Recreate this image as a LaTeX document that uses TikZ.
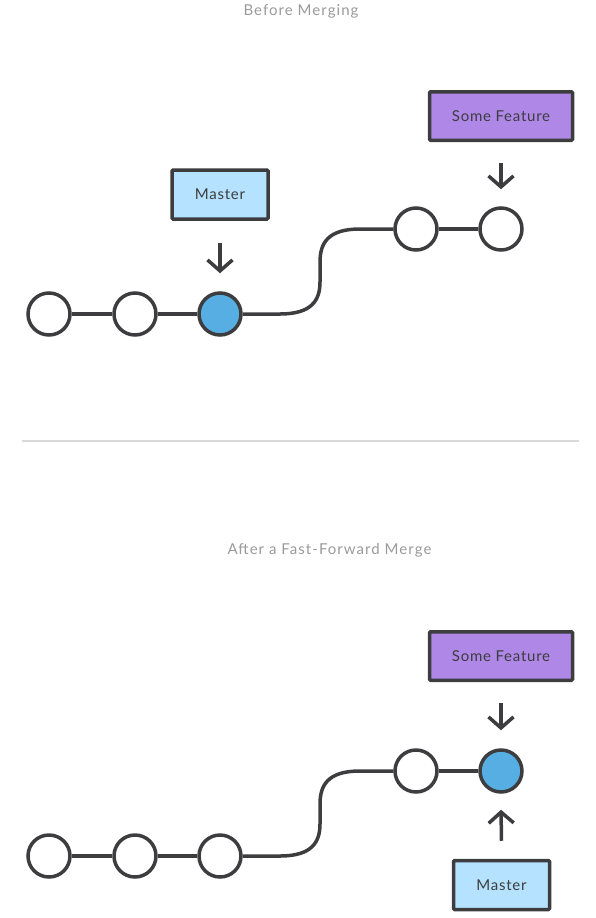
\documentclass[tikz,border=0pt]{standalone}
\usepackage{fontspec}
\setmainfont{Lato}[LetterSpace=5]
\newfontfamily\titlefont{Lato}[LetterSpace=7]
\usetikzlibrary{arrows.meta}
\definecolor{ink}{HTML}{3D3D3F}
\definecolor{headblue}{HTML}{56AEE2}
\definecolor{lightblue}{HTML}{B5E3FF}
\definecolor{purp}{HTML}{AE87E7}
\definecolor{titlegray}{HTML}{9A9A9A}
\definecolor{rulegray}{HTML}{D9D9D9}
\tikzset{
  commit/.style={circle, draw=ink, line width=3.5pt, fill=white, minimum size=42pt, inner sep=0pt},
  headcommit/.style={commit, fill=headblue},
  link/.style={draw=ink, line width=3.5pt},
  branchbox/.style={draw=ink, line width=3.5pt, rounded corners=1pt, inner sep=0pt, font=\fontsize{15}{18}\selectfont, text=ink},
  masterbox/.style={branchbox, fill=lightblue, minimum width=96pt, minimum height=49pt},
  featurebox/.style={branchbox, fill=purp, minimum width=143pt, minimum height=48.5pt},
  pointer/.style={draw=ink, line width=3.5pt, -{Straight Barb[length=11pt,width=25pt,line width=3.5pt]}},
  title/.style={text=titlegray, font=\titlefont\fontsize{15}{18}\selectfont},
}
\begin{document}
\begin{tikzpicture}[x=1pt,y=-1pt]
\useasboundingbox (0,0) rectangle (595,918);
% ---------- Before ----------
\node[title] (t1) at (301,11) {Before Merging};
\node[commit] (a1) at (49,314) {};
\node[commit] (a2) at (135,314) {};
\node[headcommit] (a3) at (220,314) {};
\node[commit] (a4) at (416,229) {};
\node[commit] (a5) at (501,229) {};
\draw[link] (a1) -- (a2);
\draw[link] (a2) -- (a3);
\draw[link] (a3.east) -- (280,314) .. controls (312,314) and (320,300) .. (320,282) -- (320,262) .. controls (320,243) and (328,229) .. (360,229) -- (a4.west);
\draw[link] (a4) -- (a5);
\node[masterbox] (m1) at (220,194.5) {Master};
\node[featurebox] (f1) at (501,116) {Some Feature};
\draw[pointer] ([yshift=-22pt]m1.south) -- ([yshift=18pt]a3.north);
\draw[pointer] ([yshift=-21pt]f1.south) -- ([yshift=17pt]a5.north);
% ---------- divider ----------
\coordinate (dl) at (22,441);
\coordinate (dr) at (579,441);
\draw[rulegray, line width=1.5pt] (dl) -- (dr);
% ---------- After ----------
\node[title] (t2) at (329.5,550) {After a Fast-Forward Merge};
\node[commit] (b1) at (49,856) {};
\node[commit] (b2) at (135,856) {};
\node[commit] (b3) at (220,856) {};
\node[commit] (b4) at (416,771) {};
\node[headcommit] (b5) at (501,771) {};
\draw[link] (b1) -- (b2);
\draw[link] (b2) -- (b3);
\draw[link] (b3.east) -- (280,856) .. controls (312,856) and (320,842) .. (320,824) -- (320,804) .. controls (320,785) and (328,771) .. (360,771) -- (b4.west);
\draw[link] (b4) -- (b5);
\node[featurebox] (f2) at (501,656) {Some Feature};
\node[masterbox] (m2) at (501.5,885) {Master};
\draw[pointer] ([yshift=-21pt]f2.south) -- ([yshift=18pt]b5.north);
\draw[pointer] ([yshift=18pt]m2.north) -- ([yshift=-16pt]b5.south);
\end{tikzpicture}
\end{document}
